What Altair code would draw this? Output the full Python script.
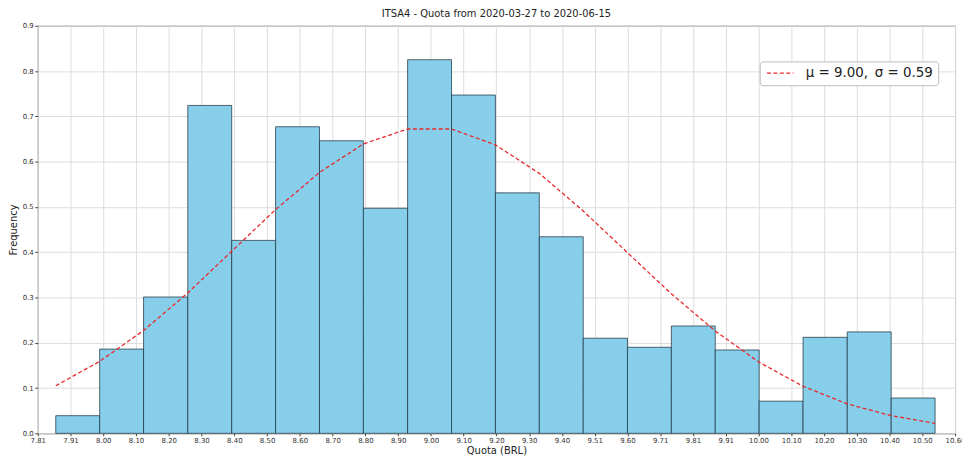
import json
import altair as alt
import pandas as pd

# Histogram (density)
bin_edges = [7.861, 7.995, 8.129, 8.264, 8.398, 8.532, 8.666, 8.800, 8.935, 9.069,
             9.203, 9.337, 9.471, 9.606, 9.740, 9.874, 10.008, 10.142, 10.277, 10.411, 10.545]
densities = [0.039, 0.186, 0.301, 0.724, 0.426, 0.677, 0.646, 0.497, 0.825, 0.747,
             0.531, 0.434, 0.210, 0.190, 0.237, 0.184, 0.071, 0.212, 0.224, 0.078]
# Dashed fitted curve values at the bin edges
curve_values = [0.105, 0.159, 0.227, 0.310, 0.402, 0.494, 0.576, 0.639, 0.672, 0.672,
                0.637, 0.574, 0.491, 0.399, 0.308, 0.226, 0.157, 0.104, 0.065, 0.039, 0.022]
curve_label = "\u03bc = 9.00,\u2002\u03c3 = 0.59"

x_tick_values = [7.806, 7.906, 8.006, 8.106, 8.206, 8.306, 8.406, 8.506, 8.606, 8.706,
                 8.806, 8.906, 9.006, 9.106, 9.206, 9.306, 9.406, 9.506, 9.606, 9.706,
                 9.806, 9.906, 10.006, 10.106, 10.206, 10.306, 10.406, 10.506, 10.606]
x_tick_labels = ["7.81", "7.91", "8.00", "8.10", "8.20", "8.30", "8.40", "8.50", "8.60", "8.70",
                 "8.80", "8.90", "9.00", "9.10", "9.20", "9.30", "9.40", "9.51", "9.60", "9.71",
                 "9.81", "9.91", "10.00", "10.10", "10.20", "10.30", "10.40", "10.50", "10.60"]
y_tick_values = [0.0, 0.1, 0.2, 0.3, 0.4, 0.5, 0.6, 0.7, 0.8, 0.9]

bars = pd.DataFrame({"x0": bin_edges[:-1], "x1": bin_edges[1:], "d": densities})
curve = pd.DataFrame({"x": bin_edges, "y": curve_values, "s": [curve_label] * len(bin_edges)})

FONT = "DejaVu Sans"
label_expr = f"{json.dumps(x_tick_labels)}[round((datum.value - {x_tick_values[0]}) / 0.1)]"

x_scale = alt.Scale(domain=[x_tick_values[0], x_tick_values[-1]], nice=False, zero=False)
y_scale = alt.Scale(domain=[0, 0.9], nice=False)

x_axis = alt.Axis(values=x_tick_values, tickCount=60, labelExpr=label_expr, title="Quota (BRL)",
                  labelFontSize=7, tickSize=2.5, labelPadding=1, titlePadding=2,
                  titleFontSize=10, titleFontWeight="normal", grid=True, domain=False,
                  labelFlush=False, labelOverlap=False)
y_axis = alt.Axis(values=y_tick_values, tickCount=20, format=".1f", title="Frequency",
                  labelFontSize=7, tickSize=3, labelPadding=1.5, titlePadding=4,
                  titleFontSize=10, titleFontWeight="normal", grid=True, domain=False,
                  labelOverlap=False)

hist = alt.Chart(bars).mark_rect(
    fill="#87CEEB", stroke="#1f3340", strokeWidth=1, strokeOpacity=0.75
).encode(
    x=alt.X("x0:Q", scale=x_scale, axis=x_axis),
    x2="x1:Q",
    y=alt.Y("d:Q", scale=y_scale, axis=y_axis),
    y2=alt.datum(0),
)

line = alt.Chart(curve).mark_line(strokeDash=[4, 2.5], strokeWidth=1.3).encode(
    x=alt.X("x:Q", scale=x_scale),
    y=alt.Y("y:Q", scale=y_scale),
    color=alt.Color("s:N", scale=alt.Scale(domain=[curve_label], range=["#e8282b"]),
                    legend=alt.Legend(title=None, orient="none", legendX=728, legendY=36,
                                      symbolType="M-3,0H3", symbolSize=80,
                                      symbolOffset=9,
                                      symbolStrokeWidth=1.3, symbolDash=[4, 2.5],
                                      labelFontSize=13.5, labelFont=FONT, labelColor="#222",
                                      labelOffset=19, fillColor="white", strokeColor="#bbbbbb",
                                      cornerRadius=3, padding=5)),
)

chart = alt.layer(hist, line).properties(
    width=925, height=411,
    title=alt.Title("ITSA4 - Quota from 2020-03-27 to 2020-06-15", fontSize=10,
                    fontWeight="normal", font=FONT, color="#222", offset=3),
    autosize=alt.AutoSizeParams(type="none"),
    padding={"left": 30, "top": 16, "right": 7, "bottom": 24},
).configure(font=FONT).configure_axis(
    labelFont=FONT, titleFont=FONT, labelColor="#333", titleColor="#222",
    gridColor="#dddddd", gridWidth=1, tickColor="#444"
).configure_view(stroke="#666666", strokeWidth=1)

chart.save("out.html", embed_options={"renderer": "svg", "actions": False})
